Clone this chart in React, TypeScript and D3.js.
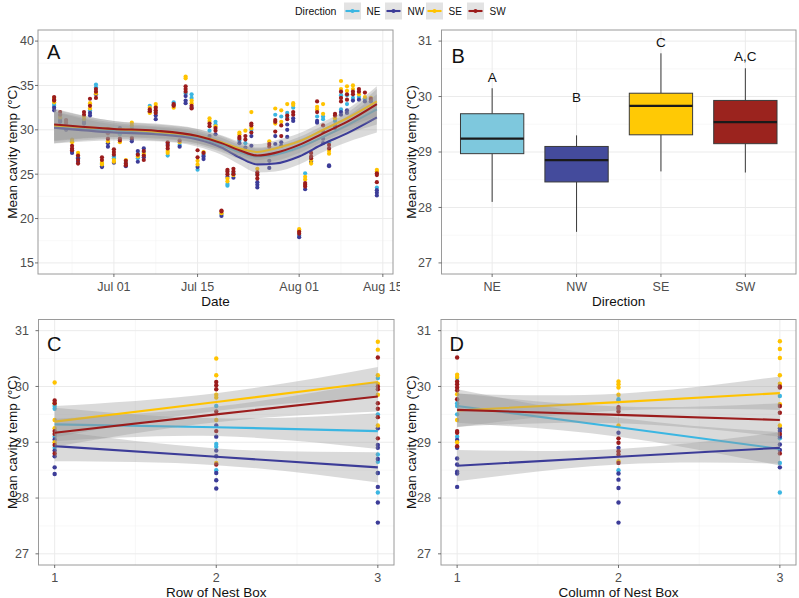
import React from "react";
import * as d3 from "d3";

// ---------- shared ----------
const directions = ["NE", "NW", "SE", "SW"];
const lineColors: Record<string, string> = { NE: "#3bb6e2", NW: "#3c3c98", SE: "#ffc300", SW: "#9b1c1c" };
const boxColors: Record<string, string> = { NE: "#7ec8dd", NW: "#444b9c", SE: "#ffc905", SW: "#9b231e" };
const yTitle = "Mean cavity temp (°C)";

// ---------- Panel A: daily means ----------
const aDates = ["06-21","06-22","06-23","06-24","06-25","06-26","06-27","06-28","06-29","06-30","07-01","07-02","07-03","07-04","07-05","07-06","07-07","07-08","07-10","07-11","07-12","07-13","07-14","07-15","07-16","07-17","07-18","07-19","07-20","07-21","07-22","07-23","07-24","07-25","07-27","07-28","07-29","07-30","07-31","08-01","08-02","08-03","08-04","08-05","08-06","08-07","08-08","08-09","08-10","08-11","08-12","08-13","08-14"];
const aSE = [[33.6,33.1],[31.6,31.4],[31.0],[28.9,28.6],[27.4],[31.5,31.2],[33.0,32.4],[34.1],[26.3,26.1],[28.7],[26.6,26.4],[28.6],[26.6],[30.8,30.5],[27.0],[27.3],[32.5,31.9],[32.9,32.6],[27.6,27.4],[32.5],[28.6],[36.0,35.8],[33.3,33.0],[26.5,26.1],[27.5],[31.3,31.0],[30.4],[20.6],[24.5,24.2],[24.9],[29.7,29.5],[29.9],[32.0,30.2],[25.6],[28.7],[32.4,30.7],[32.2,30.9],[32.9],[33.0,32.8],[18.8,18.6],[24.7,24.4],[26.6,26.2],[32.6,32.3],[32.9,31.8],[27.6,27.3],[31.3],[35.5,34.6],[34.9,34.4],[35.0,34.6],[34.0],[33.7],[33.6],[25.5,25.3]];
const aSW = [[33.7,33.4,33.3],[32.0,31.7],[31.1,30.8],[28.2,27.9,27.7],[27.1,26.6,26.2],[32.0,31.7],[33.5,32.7],[34.6,34.3,33.6],[26.9,26.6],[29.6,29.0],[27.8,27.5,27.2],[29.0,28.8],[26.5,26.2,26.0],[29.9,29.1],[27.2],[27.6,27.1,26.6],[32.3,32.1],[32.5,32.2,31.9],[28.6,28.2,27.9],[32.9,32.7],[28.8],[34.9,34.6,34.3],[32.7,32.4],[27.7,26.9],[27.4],[30.7,30.4],[30.2,29.9],[20.9,20.8],[25.5,25.3,25.0],[25.6,25.3,25.0],[29.2,29.0],[29.3,28.9],[30.7,30.5,29.7],[25.2,24.9,24.5],[28.4,28.1],[31.1,30.9,29.8],[30.5,29.3],[31.6,31.2],[32.0,31.7],[18.5,18.3],[24.0,23.8,23.6],[27.4,27.0,26.8],[33.2,32.0],[30.5,29.8],[28.3,27.9],[31.8,31.6],[34.3,33.6,33.2],[34.0,33.4],[34.3,34.0],[34.6,34.3],[34.2],[33.5],[25.1,24.9,24.1]];
const aNE = [[32.9,32.7],[31.3,31.1],[30.6,30.4],[28.7],[26.9],[31.0],[32.2],[35.1,34.8],[26.2],[30.1],[27.0,26.8],[29.5],[26.3],[30.2],[27.3,26.8],[27.5],[32.7],[32.0],[27.1],[33.1],[28.3],[34.1],[34.0,33.6],[25.5],[27.2],[29.9],[30.9,30.6],[20.5],[23.9,23.7],[25.1],[28.8],[28.5],[30.0],[25.0],[27.2],[31.7],[31.5],[31.9,31.4],[32.5],[18.1],[25.1],[26.5],[31.5],[31.5,31.2],[28.6],[31.0],[33.9,32.3],[33.9,32.9],[33.6],[33.7],[33.5],[33.4],[23.5]];
const aNW = [[32.5,32.2],[31.0,30.9],[30.2,30.0],[27.6,27.4],[26.8,26.4],[30.8,30.7],[31.9,31.6],[34.0],[25.9,25.8],[28.5,28.1],[26.3],[30.2],[25.9],[28.9,28.7],[27.6,26.4],[27.9,26.9],[32.0],[31.6,31.2],[28.4],[32.8],[28.1],[33.8,33.3,33.0],[32.5],[25.8],[27.0,26.7],[29.3],[29.5],[20.3],[24.7],[24.6],[28.5],[28.0],[29.3,28.2],[24.1,23.8,23.5],[26.5,25.7],[29.3,28.4],[28.6,28.2],[30.6,30.0,29.2],[31.3,31.0],[17.9],[23.3],[26.4],[31.0,30.8],[29.0,28.5],[26.0,25.9],[30.5,30.2],[32.0,31.7],[32.2,31.9],[33.3],[33.4],[33.2],[33.2],[23.2,22.9,22.6]];
const aTickDates = ["07-01", "07-15", "08-01", "08-15"];
const aYTicks = [15, 20, 25, 30, 35, 40];
// loess fits
const smoothDates = ["06-21","07-01","07-08","07-15","07-19","07-22","07-25","07-28","08-01","08-05","08-09","08-14"];
const smoothNE = [30.3, 29.9, 29.6, 29.1, 28.3, 27.5, 27.0, 27.2, 28.0, 29.2, 30.5, 32.3];
const smoothNW = [30.25, 29.7, 29.5, 28.9, 28.0, 26.9, 26.1, 26.2, 27.0, 28.4, 29.6, 31.4];
const smoothSE = [30.5, 30.1, 29.8, 29.3, 28.6, 27.9, 27.5, 27.9, 28.7, 30.0, 31.3, 33.2];
const smoothSW = [30.6, 30.1, 29.9, 29.3, 28.5, 27.7, 27.1, 27.4, 28.3, 29.6, 30.9, 32.9];
const smoothHalf = [1.8, 0.9, 0.8, 0.8, 0.8, 0.8, 0.9, 0.9, 0.9, 0.9, 1.0, 1.7];

// ---------- Panel B: boxplots ----------
const boxLow = [28.1, 27.56, 28.65, 28.63];
const boxQ1 = [28.97, 28.46, 29.31, 29.15];
const boxMed = [29.24, 28.855, 29.83, 29.54];
const boxQ3 = [29.69, 29.1, 30.06, 29.93];
const boxHigh = [30.15, 29.3, 30.78, 30.51];
const boxLetters = ["A", "B", "C", "A,C"];
const boxLetterY = [30.35, 29.99, 30.98, 30.73];
const tempTicks = [27, 28, 29, 30, 31];

// ---------- Panel C: row of nest box ----------
const nestTicks = [1, 2, 3];
const cNE = [[29.65, 29.6, 29.1, 28.9], [29.65, 28.97, 28.92, 28.5], [30.15, 29.5, 28.78, 28.65, 28.45, 28.1]];
const cNW = [[29.05, 28.85, 28.75, 28.55, 28.43], [29.3, 29.1, 28.85, 28.75, 28.45, 28.32, 28.17], [29.25, 28.95, 28.9, 28.7, 28.45, 28.2, 27.92, 27.56]];
const cSE = [[30.07, 29.7, 29.4, 29.25, 29.0], [30.5, 30.2, 29.85, 29.8, 29.4, 28.63], [30.8, 30.66, 30.2, 30.05, 29.85, 29.3]];
const cSW = [[29.75, 29.7, 29.2, 29.15, 28.95, 28.8], [30.08, 30.02, 29.95, 29.55, 29.2, 28.6], [30.52, 30.0, 29.95, 29.7, 29.6, 29.45, 29.07]];
const cFitNE = [29.32, 29.27, 29.2];
const cFitNW = [28.93, 28.74, 28.55];
const cFitSE = [29.37, 29.72, 30.08];
const cFitSW = [29.17, 29.5, 29.82];
const cHalfNE = [0.3, 0.16, 0.32];
const cHalfNW = [0.27, 0.15, 0.27];
const cHalfSE = [0.28, 0.16, 0.27];
const cHalfSW = [0.25, 0.14, 0.27];

// ---------- Panel D: column of nest box ----------
const dNE = [[30.15, 29.7, 29.65, 29.5, 29.1], [29.77, 29.74, 28.5], [29.83, 29.07, 28.63, 28.1]];
const dNW = [[29.04, 28.9, 28.71, 28.6, 28.47, 28.44, 28.2], [29.17, 28.9, 28.44, 28.33, 28.18, 27.92, 27.56], [29.25, 29.2, 29.1, 28.96, 28.86, 28.55]];
const dSE = [[30.21, 30.17, 29.86, 29.4, 29.0], [30.09, 30.04, 29.98, 29.85, 29.3, 28.66], [30.81, 30.67, 30.51, 30.2, 30.05, 29.68, 29.3]];
const dSW = [[30.52, 30.09, 30.04, 29.98, 29.93, 29.77, 29.2, 29.17, 28.93], [29.63, 29.6, 29.55, 29.07, 28.99, 28.84, 28.78, 28.63], [30.0, 29.98, 29.65, 29.53, 29.15, 28.8]];
const dFitNE = [29.65, 29.27, 28.88];
const dFitNW = [28.58, 28.74, 28.9];
const dFitSE = [29.57, 29.72, 29.88];
const dFitSW = [29.58, 29.49, 29.4];
const dHalfNE = [0.3, 0.17, 0.3];
const dHalfNW = [0.28, 0.14, 0.28];
const dHalfSE = [0.3, 0.15, 0.3];
const dHalfSW = [0.3, 0.15, 0.3];

// ---------- helpers ----------
const parseDate = d3.timeParse("%Y-%m-%d");
const toDate = (s: string) => parseDate("2019-" + s) as Date;
const FONT = "'Liberation Sans', Arial, sans-serif";
const GRID_MAJOR = "#ebebeb";
const GRID_MINOR = "#f4f4f4";
const BORDER = "#9a9a9a";
const TICK_COL = "#4d4d4d";
const RIBBON = "#999999";
const RIBBON_OP = 0.36;

function expand(lo: number, hi: number, m = 0.05): [number, number] {
  const r = hi - lo;
  return [lo - r * m, hi + r * m];
}

type Frame = { x0: number; x1: number; y0: number; y1: number };

function Frame({ f, xMajor, xMinor, yMajor, yMinor, children }: any) {
  return (
    <g>
      <rect x={f.x0} y={f.y0} width={f.x1 - f.x0} height={f.y1 - f.y0} fill="#fff" />
      {yMinor.map((y: number, i: number) => (
        <line key={"ym" + i} x1={f.x0} x2={f.x1} y1={y} y2={y} stroke={GRID_MINOR} strokeWidth={0.6} />
      ))}
      {xMinor.map((x: number, i: number) => (
        <line key={"xm" + i} x1={x} x2={x} y1={f.y0} y2={f.y1} stroke={GRID_MINOR} strokeWidth={0.6} />
      ))}
      {yMajor.map((y: number, i: number) => (
        <line key={"yM" + i} x1={f.x0} x2={f.x1} y1={y} y2={y} stroke={GRID_MAJOR} strokeWidth={1} />
      ))}
      {xMajor.map((x: number, i: number) => (
        <line key={"xM" + i} x1={x} x2={x} y1={f.y0} y2={f.y1} stroke={GRID_MAJOR} strokeWidth={1} />
      ))}
      {children}
      <rect x={f.x0} y={f.y0} width={f.x1 - f.x0} height={f.y1 - f.y0} fill="none" stroke={BORDER} strokeWidth={1} />
    </g>
  );
}

function Axes({ f, xTicks, yTicks, labelEnd, yTitleX, xTitle, letter, letterX, letterY }: any) {
  return (
    <g fontFamily={FONT}>
      {yTicks.map((t: any, i: number) => (
        <g key={"yt" + i}>
          <line x1={f.x0 - 3} x2={f.x0} y1={t.pos} y2={t.pos} stroke={TICK_COL} strokeWidth={0.8} />
          <text x={labelEnd} y={t.pos} dy="0.35em" textAnchor="end" fontSize={12.5} fill={TICK_COL}>{t.label}</text>
        </g>
      ))}
      {xTicks.map((t: any, i: number) => (
        <g key={"xt" + i}>
          <line x1={t.pos} x2={t.pos} y1={f.y1} y2={f.y1 + 3} stroke={TICK_COL} strokeWidth={0.8} />
          <text x={t.pos} y={f.y1 + 17} textAnchor="middle" fontSize={12.5} fill={TICK_COL}>{t.label}</text>
        </g>
      ))}
      <text x={(f.x0 + f.x1) / 2} y={f.y1 + 31.5} textAnchor="middle" fontSize={13.5} fill="#111">{xTitle}</text>
      <text transform={`translate(${yTitleX},${(f.y0 + f.y1) / 2}) rotate(-90)`} dy="0.35em" textAnchor="middle" fontSize={13.5} fill="#111">{yTitle}</text>
      <text x={letterX} y={letterY} fontSize={20} fill="#111">{letter}</text>
    </g>
  );
}

function minorBetween(vals: number[]) {
  const out: number[] = [];
  for (let i = 0; i < vals.length - 1; i++) out.push((vals[i] + vals[i + 1]) / 2);
  return out;
}

// ---------- Panel A ----------
function PanelA() {
  const f = { x0: 38, x1: 393, y0: 30, y1: 274 };
  const dates = aDates.map(toDate);
  const ext = d3.extent(dates) as [Date, Date];
  const dom = expand(+ext[0], +ext[1]);
  const x = d3.scaleTime().domain([new Date(dom[0]), new Date(dom[1])]).range([f.x0, f.x1]);
  const yd = expand(aYTicks[0], aYTicks[aYTicks.length - 1]);
  const y = d3.scaleLinear().domain(yd).range([f.y1, f.y0]);
  const fmt = d3.timeFormat("%b %d");
  const tickDates = aTickDates.map(toDate);
  const xMajor = tickDates.map((d) => x(d));
  const xMinorVals = minorBetween(tickDates.map((d) => +d));
  xMinorVals.unshift(+tickDates[0] - (xMinorVals[0] - +tickDates[0]));
  const xMinor = xMinorVals.map((v) => x(new Date(v))).filter((v) => v > f.x0 && v < f.x1);
  const yMinor = minorBetween(aYTicks).map((v) => y(v));
  const series: Record<string, number[][]> = { NE: aNE, NW: aNW, SE: aSE, SW: aSW };
  const smooth: Record<string, number[]> = { NE: smoothNE, NW: smoothNW, SE: smoothSE, SW: smoothSW };
  const sDates = smoothDates.map(toDate);
  const line = d3.line<[Date, number]>().x((d) => x(d[0])).y((d) => y(d[1])).curve(d3.curveMonotoneX);
  const area = d3.area<[Date, number, number]>().x((d) => x(d[0])).y0((d) => y(d[1])).y1((d) => y(d[2])).curve(d3.curveMonotoneX);
  return (
    <g>
      <Frame f={f} xMajor={xMajor} xMinor={xMinor} yMajor={aYTicks.map((v) => y(v))} yMinor={yMinor}>
        {directions.map((dir) =>
          series[dir].map((vals, i) =>
            vals.map((v, j) => (
              <circle key={dir + i + "_" + j} cx={x(dates[i])} cy={y(v)} r={2.1} fill={lineColors[dir]} />
            ))
          )
        )}
        {directions.map((dir) => {
          const pts = sDates.map((d, i) => [d, smooth[dir][i]] as [Date, number]);
          const band = sDates.map((d, i) => [d, smooth[dir][i] - smoothHalf[i], smooth[dir][i] + smoothHalf[i]] as [Date, number, number]);
          return (
            <g key={"s" + dir}>
              <path d={area(band) || ""} fill={RIBBON} opacity={RIBBON_OP} />
              <path d={line(pts) || ""} fill="none" stroke={lineColors[dir]} strokeWidth={2.1} />
            </g>
          );
        })}
      </Frame>
      <Axes
        f={f}
        xTicks={tickDates.map((d) => ({ pos: x(d), label: fmt(d) }))}
        yTicks={aYTicks.map((v) => ({ pos: y(v), label: String(v) }))}
        labelEnd={f.x0 - 4}
        yTitleX={12}
        xTitle="Date"
        letter="A"
        letterX={f.x0 + 9}
        letterY={f.y0 + 28.5}
      />
    </g>
  );
}

// ---------- Panel B ----------
function PanelB() {
  const f = { x0: 441.5, x1: 796, y0: 30, y1: 274 };
  const x = d3.scaleLinear().domain([0.4, directions.length + 0.6]).range([f.x0, f.x1]);
  const y = d3.scaleLinear().domain(expand(tempTicks[0], tempTicks[tempTicks.length - 1])).range([f.y1, f.y0]);
  const bw = x(1.375) - x(1);
  return (
    <g>
      <rect x={400} y={25} width={399} height={285} fill="#fff" />
      <Frame f={f} xMajor={directions.map((_, i) => x(i + 1))} xMinor={[]} yMajor={tempTicks.map((v) => y(v))} yMinor={minorBetween(tempTicks).map((v) => y(v))}>
        {directions.map((dir, i) => {
          const cx = x(i + 1);
          return (
            <g key={dir}>
              <line x1={cx} x2={cx} y1={y(boxHigh[i])} y2={y(boxQ3[i])} stroke="#3a3a3a" strokeWidth={1} />
              <line x1={cx} x2={cx} y1={y(boxQ1[i])} y2={y(boxLow[i])} stroke="#3a3a3a" strokeWidth={1} />
              <rect x={cx - bw} y={y(boxQ3[i])} width={bw * 2} height={y(boxQ1[i]) - y(boxQ3[i])} fill={boxColors[dir]} stroke="#3a3a3a" strokeWidth={1} />
              <line x1={cx - bw} x2={cx + bw} y1={y(boxMed[i])} y2={y(boxMed[i])} stroke="#1a1a1a" strokeWidth={2.2} />
              <text x={cx} y={y(boxLetterY[i])} dy="0.35em" textAnchor="middle" fontFamily={FONT} fontSize={13.5} fill="#111">{boxLetters[i]}</text>
            </g>
          );
        })}
      </Frame>
      <Axes
        f={f}
        xTicks={directions.map((d, i) => ({ pos: x(i + 1), label: d }))}
        yTicks={tempTicks.map((v) => ({ pos: y(v), label: String(v) }))}
        labelEnd={f.x0 - 9.5}
        yTitleX={411}
        xTitle="Direction"
        letter="B"
        letterX={f.x0 + 10}
        letterY={f.y0 + 33}
      />
    </g>
  );
}

// ---------- Panels C & D ----------
function NestPanel({ f, pts, fits, halves, xTitle, letter, labelEnd, yTitleX, bg }: any) {
  const x = d3.scaleLinear().domain(expand(nestTicks[0], nestTicks[nestTicks.length - 1])).range([f.x0, f.x1]);
  const y = d3.scaleLinear().domain(expand(tempTicks[0], tempTicks[tempTicks.length - 1])).range([f.y1, f.y0]);
  const line = d3.line<number>().x((_, i) => x(nestTicks[i])).y((d) => y(d));
  const area = d3.area<[number, number]>().x((_, i) => x(nestTicks[i])).y0((d) => y(d[0])).y1((d) => y(d[1])).curve(d3.curveNatural);
  return (
    <g>
      {bg && <rect x={bg[0]} y={bg[1]} width={bg[2]} height={bg[3]} fill="#fff" />}
      <Frame f={f} xMajor={nestTicks.map((v) => x(v))} xMinor={minorBetween(nestTicks).map((v) => x(v))} yMajor={tempTicks.map((v) => y(v))} yMinor={minorBetween(tempTicks).map((v) => y(v))}>
        {directions.map((dir) =>
          pts[dir].map((col: number[], i: number) =>
            col.map((v, j) => <circle key={dir + i + "_" + j} cx={x(nestTicks[i])} cy={y(v)} r={2.2} fill={lineColors[dir]} />)
          )
        )}
        {directions.map((dir) => {
          const band = fits[dir].map((v: number, i: number) => [v - halves[dir][i], v + halves[dir][i]] as [number, number]);
          return (
            <g key={"f" + dir}>
              <path d={area(band) || ""} fill={RIBBON} opacity={RIBBON_OP} />
              <path d={line(fits[dir]) || ""} fill="none" stroke={lineColors[dir]} strokeWidth={2.1} />
            </g>
          );
        })}
      </Frame>
      <Axes
        f={f}
        xTicks={nestTicks.map((v) => ({ pos: x(v), label: String(v) }))}
        yTicks={tempTicks.map((v) => ({ pos: y(v), label: String(v) }))}
        labelEnd={labelEnd}
        yTitleX={yTitleX}
        xTitle={xTitle}
        letter={letter}
        letterX={f.x0 + 8.5}
        letterY={f.y0 + 31.5}
      />
    </g>
  );
}

// ---------- Legend ----------
function Legend() {
  const keyX = [344, 385, 426, 467];
  return (
    <g fontFamily={FONT}>
      <text x={295} y={11} dy="0.35em" fontSize={10.5} fill="#111">Direction</text>
      {directions.map((dir, i) => (
        <g key={dir}>
          <rect x={keyX[i]} y={2.5} width={17} height={17} fill="#e3e3e3" />
          <line x1={keyX[i] + 1.5} x2={keyX[i] + 15.5} y1={11} y2={11} stroke={lineColors[dir]} strokeWidth={2.1} />
          <circle cx={keyX[i] + 8.5} cy={11} r={2} fill={lineColors[dir]} />
          <text x={keyX[i] + 22.5} y={11} dy="0.35em" fontSize={10} fill="#111">{dir}</text>
        </g>
      ))}
    </g>
  );
}

export default function App() {
  const W = 799;
  const H = 598;
  return (
    <svg width={W} height={H} style={{ position: "absolute", left: 0, top: 0, background: "#fff" }}>
      <rect x={0} y={0} width={W} height={H} fill="#fff" />
      <PanelA />
      <PanelB />
      <NestPanel
        f={{ x0: 38.5, x1: 394, y0: 319.5, y1: 565 }}
        pts={{ NE: cNE, NW: cNW, SE: cSE, SW: cSW }}
        fits={{ NE: cFitNE, NW: cFitNW, SE: cFitSE, SW: cFitSW }}
        halves={{ NE: cHalfNE, NW: cHalfNW, SE: cHalfSE, SW: cHalfSW }}
        xTitle="Row of Nest Box"
        letter="C"
        labelEnd={29}
        yTitleX={12}
      />
      <NestPanel
        f={{ x0: 441, x1: 796, y0: 319.5, y1: 565 }}
        pts={{ NE: dNE, NW: dNW, SE: dSE, SW: dSW }}
        fits={{ NE: dFitNE, NW: dFitNW, SE: dFitSE, SW: dFitSW }}
        halves={{ NE: dHalfNE, NW: dHalfNW, SE: dHalfSE, SW: dHalfSW }}
        xTitle="Column of Nest Box"
        letter="D"
        labelEnd={431}
        yTitleX={411.5}
      />
      <Legend />
    </svg>
  );
}
